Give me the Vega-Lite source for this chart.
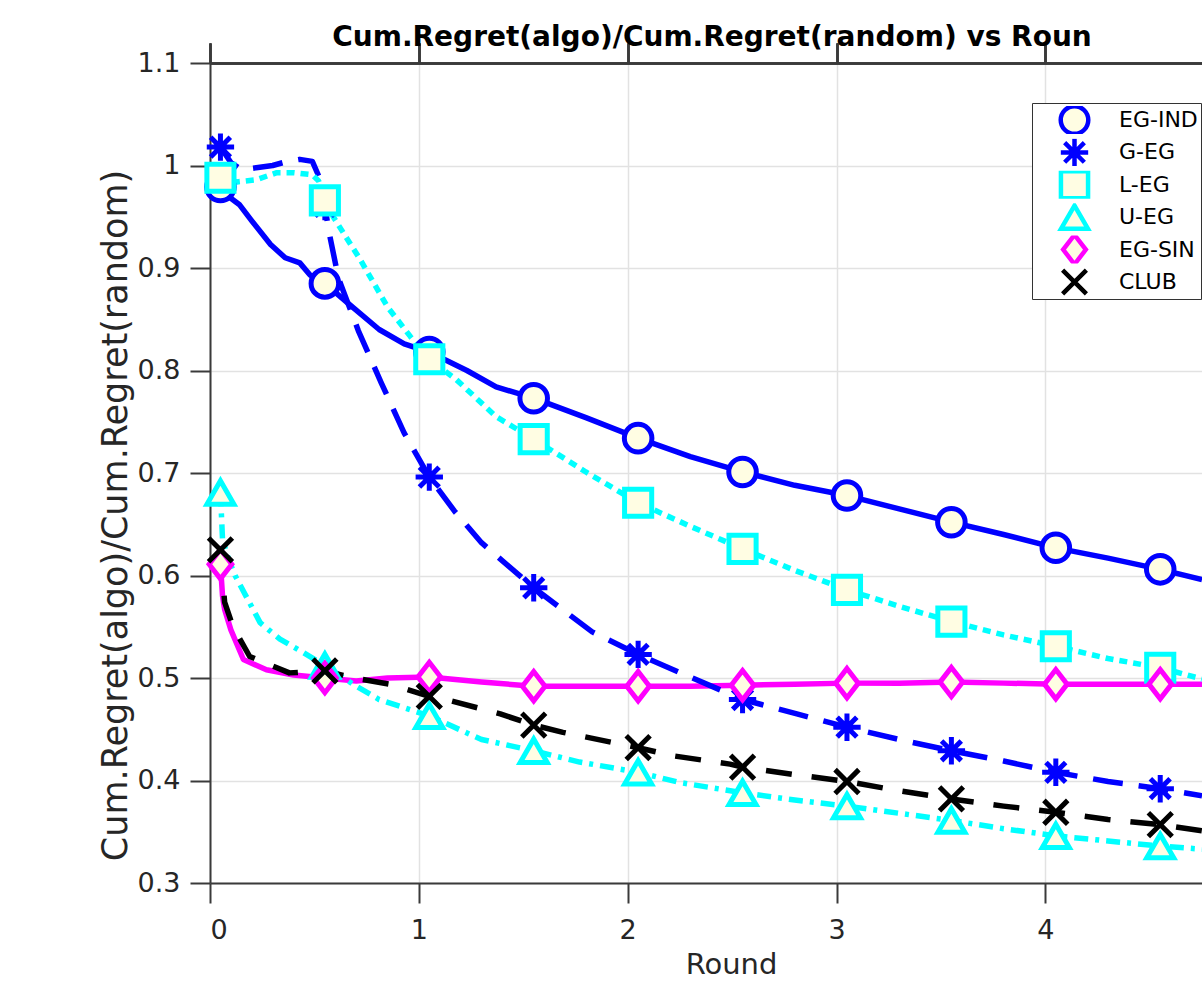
{
  "$schema": "https://vega.github.io/schema/vega-lite/v6.json",
  "width": 992,
  "height": 820,
  "autosize": {"type": "none"},
  "padding": {"left": 210, "top": 63, "right": 0, "bottom": 110},
  "background": "white",
  "title": {
    "text": "Cum.Regret(algo)/Cum.Regret(random) vs Roun",
    "font": "DejaVu Sans",
    "fontWeight": "bold",
    "fontSize": 28,
    "color": "#000000",
    "anchor": "middle",
    "frame": "group",
    "offset": 13,
    "baseline": "alphabetic",
    "dx": 6,
    "dy": 45
  },
  "config": {
    "view": {"stroke": null},
    "axis": {
      "domainColor": "#3a3a3a",
      "domainWidth": 2,
      "tickColor": "#3a3a3a",
      "tickWidth": 2,
      "tickSize": 20,
      "gridColor": "#e2e2e2",
      "gridWidth": 1.5,
      "labelFont": "DejaVu Sans",
      "labelFontSize": 27,
      "labelColor": "#262626",
      "titleFont": "DejaVu Sans",
      "titleFontWeight": "normal",
      "titleColor": "#262626"
    }
  },
  "data": {
    "values": [
      {"s": "EG-IND", "x": 0.04, "y": 0.981, "m": 0},
      {"s": "EG-IND", "x": 0.05, "y": 0.979, "m": 1},
      {"s": "EG-IND", "x": 0.10, "y": 0.968, "m": 0},
      {"s": "EG-IND", "x": 0.14, "y": 0.962, "m": 0},
      {"s": "EG-IND", "x": 0.20, "y": 0.946, "m": 0},
      {"s": "EG-IND", "x": 0.29, "y": 0.923, "m": 0},
      {"s": "EG-IND", "x": 0.36, "y": 0.910, "m": 0},
      {"s": "EG-IND", "x": 0.43, "y": 0.905, "m": 0},
      {"s": "EG-IND", "x": 0.48, "y": 0.893, "m": 0},
      {"s": "EG-IND", "x": 0.55, "y": 0.885, "m": 1},
      {"s": "EG-IND", "x": 0.67, "y": 0.864, "m": 0},
      {"s": "EG-IND", "x": 0.81, "y": 0.840, "m": 0},
      {"s": "EG-IND", "x": 0.93, "y": 0.826, "m": 0},
      {"s": "EG-IND", "x": 1.05, "y": 0.818, "m": 1},
      {"s": "EG-IND", "x": 1.23, "y": 0.800, "m": 0},
      {"s": "EG-IND", "x": 1.37, "y": 0.784, "m": 0},
      {"s": "EG-IND", "x": 1.55, "y": 0.773, "m": 1},
      {"s": "EG-IND", "x": 1.80, "y": 0.754, "m": 0},
      {"s": "EG-IND", "x": 2.05, "y": 0.734, "m": 1},
      {"s": "EG-IND", "x": 2.30, "y": 0.716, "m": 0},
      {"s": "EG-IND", "x": 2.55, "y": 0.701, "m": 1},
      {"s": "EG-IND", "x": 2.80, "y": 0.688, "m": 0},
      {"s": "EG-IND", "x": 3.05, "y": 0.678, "m": 1},
      {"s": "EG-IND", "x": 3.30, "y": 0.665, "m": 0},
      {"s": "EG-IND", "x": 3.55, "y": 0.652, "m": 1},
      {"s": "EG-IND", "x": 3.80, "y": 0.640, "m": 0},
      {"s": "EG-IND", "x": 4.05, "y": 0.627, "m": 1},
      {"s": "EG-IND", "x": 4.30, "y": 0.617, "m": 0},
      {"s": "EG-IND", "x": 4.55, "y": 0.606, "m": 1},
      {"s": "EG-IND", "x": 4.75, "y": 0.596, "m": 0},

      {"s": "G-EG", "x": 0.04, "y": 1.020, "m": 0},
      {"s": "G-EG", "x": 0.05, "y": 1.018, "m": 1},
      {"s": "G-EG", "x": 0.10, "y": 1.003, "m": 0},
      {"s": "G-EG", "x": 0.15, "y": 0.996, "m": 0},
      {"s": "G-EG", "x": 0.23, "y": 0.998, "m": 0},
      {"s": "G-EG", "x": 0.30, "y": 1.000, "m": 0},
      {"s": "G-EG", "x": 0.37, "y": 1.004, "m": 0},
      {"s": "G-EG", "x": 0.43, "y": 1.006, "m": 0},
      {"s": "G-EG", "x": 0.49, "y": 1.004, "m": 0},
      {"s": "G-EG", "x": 0.52, "y": 0.990, "m": 0},
      {"s": "G-EG", "x": 0.55, "y": 0.960, "m": 1},
      {"s": "G-EG", "x": 0.57, "y": 0.935, "m": 0},
      {"s": "G-EG", "x": 0.615, "y": 0.890, "m": 0},
      {"s": "G-EG", "x": 0.71, "y": 0.839, "m": 0},
      {"s": "G-EG", "x": 0.82, "y": 0.788, "m": 0},
      {"s": "G-EG", "x": 0.93, "y": 0.739, "m": 0},
      {"s": "G-EG", "x": 1.05, "y": 0.696, "m": 1},
      {"s": "G-EG", "x": 1.17, "y": 0.663, "m": 0},
      {"s": "G-EG", "x": 1.30, "y": 0.632, "m": 0},
      {"s": "G-EG", "x": 1.55, "y": 0.588, "m": 1},
      {"s": "G-EG", "x": 1.83, "y": 0.545, "m": 0},
      {"s": "G-EG", "x": 2.05, "y": 0.523, "m": 1},
      {"s": "G-EG", "x": 2.31, "y": 0.500, "m": 0},
      {"s": "G-EG", "x": 2.55, "y": 0.479, "m": 1},
      {"s": "G-EG", "x": 2.81, "y": 0.465, "m": 0},
      {"s": "G-EG", "x": 3.05, "y": 0.452, "m": 1},
      {"s": "G-EG", "x": 3.30, "y": 0.440, "m": 0},
      {"s": "G-EG", "x": 3.55, "y": 0.429, "m": 1},
      {"s": "G-EG", "x": 3.80, "y": 0.419, "m": 0},
      {"s": "G-EG", "x": 4.05, "y": 0.408, "m": 1},
      {"s": "G-EG", "x": 4.30, "y": 0.399, "m": 0},
      {"s": "G-EG", "x": 4.55, "y": 0.392, "m": 1},
      {"s": "G-EG", "x": 4.75, "y": 0.385, "m": 0},

      {"s": "L-EG", "x": 0.04, "y": 0.988, "m": 0},
      {"s": "L-EG", "x": 0.05, "y": 0.988, "m": 1},
      {"s": "L-EG", "x": 0.13, "y": 0.984, "m": 0},
      {"s": "L-EG", "x": 0.22, "y": 0.986, "m": 0},
      {"s": "L-EG", "x": 0.32, "y": 0.993, "m": 0},
      {"s": "L-EG", "x": 0.40, "y": 0.993, "m": 0},
      {"s": "L-EG", "x": 0.49, "y": 0.991, "m": 0},
      {"s": "L-EG", "x": 0.52, "y": 0.985, "m": 0},
      {"s": "L-EG", "x": 0.55, "y": 0.966, "m": 1},
      {"s": "L-EG", "x": 0.59, "y": 0.950, "m": 0},
      {"s": "L-EG", "x": 0.72, "y": 0.908, "m": 0},
      {"s": "L-EG", "x": 0.85, "y": 0.862, "m": 0},
      {"s": "L-EG", "x": 0.96, "y": 0.833, "m": 0},
      {"s": "L-EG", "x": 1.05, "y": 0.811, "m": 1},
      {"s": "L-EG", "x": 1.18, "y": 0.791, "m": 0},
      {"s": "L-EG", "x": 1.37, "y": 0.755, "m": 0},
      {"s": "L-EG", "x": 1.55, "y": 0.733, "m": 1},
      {"s": "L-EG", "x": 1.80, "y": 0.701, "m": 0},
      {"s": "L-EG", "x": 2.05, "y": 0.671, "m": 1},
      {"s": "L-EG", "x": 2.30, "y": 0.648, "m": 0},
      {"s": "L-EG", "x": 2.55, "y": 0.626, "m": 1},
      {"s": "L-EG", "x": 2.80, "y": 0.605, "m": 0},
      {"s": "L-EG", "x": 3.05, "y": 0.586, "m": 1},
      {"s": "L-EG", "x": 3.30, "y": 0.570, "m": 0},
      {"s": "L-EG", "x": 3.55, "y": 0.555, "m": 1},
      {"s": "L-EG", "x": 3.80, "y": 0.542, "m": 0},
      {"s": "L-EG", "x": 4.05, "y": 0.531, "m": 1},
      {"s": "L-EG", "x": 4.30, "y": 0.519, "m": 0},
      {"s": "L-EG", "x": 4.55, "y": 0.510, "m": 1},
      {"s": "L-EG", "x": 4.75, "y": 0.499, "m": 0},

      {"s": "U-EG", "x": 0.05, "y": 0.681, "m": 1},
      {"s": "U-EG", "x": 0.06, "y": 0.635, "m": 0},
      {"s": "U-EG", "x": 0.09, "y": 0.615, "m": 0},
      {"s": "U-EG", "x": 0.12, "y": 0.600, "m": 0},
      {"s": "U-EG", "x": 0.18, "y": 0.577, "m": 0},
      {"s": "U-EG", "x": 0.24, "y": 0.554, "m": 0},
      {"s": "U-EG", "x": 0.335, "y": 0.538, "m": 0},
      {"s": "U-EG", "x": 0.445, "y": 0.525, "m": 0},
      {"s": "U-EG", "x": 0.55, "y": 0.512, "m": 1},
      {"s": "U-EG", "x": 0.70, "y": 0.492, "m": 0},
      {"s": "U-EG", "x": 0.81, "y": 0.479, "m": 0},
      {"s": "U-EG", "x": 1.05, "y": 0.463, "m": 1},
      {"s": "U-EG", "x": 1.30, "y": 0.440, "m": 0},
      {"s": "U-EG", "x": 1.55, "y": 0.429, "m": 1},
      {"s": "U-EG", "x": 1.77, "y": 0.418, "m": 0},
      {"s": "U-EG", "x": 2.05, "y": 0.408, "m": 1},
      {"s": "U-EG", "x": 2.25, "y": 0.398, "m": 0},
      {"s": "U-EG", "x": 2.55, "y": 0.388, "m": 1},
      {"s": "U-EG", "x": 2.80, "y": 0.381, "m": 0},
      {"s": "U-EG", "x": 3.05, "y": 0.375, "m": 1},
      {"s": "U-EG", "x": 3.30, "y": 0.368, "m": 0},
      {"s": "U-EG", "x": 3.55, "y": 0.361, "m": 1},
      {"s": "U-EG", "x": 3.80, "y": 0.353, "m": 0},
      {"s": "U-EG", "x": 4.05, "y": 0.346, "m": 1},
      {"s": "U-EG", "x": 4.30, "y": 0.341, "m": 0},
      {"s": "U-EG", "x": 4.55, "y": 0.336, "m": 1},
      {"s": "U-EG", "x": 4.75, "y": 0.333, "m": 0},

      {"s": "EG-SIN", "x": 0.05, "y": 0.611, "m": 1},
      {"s": "EG-SIN", "x": 0.06, "y": 0.580, "m": 0},
      {"s": "EG-SIN", "x": 0.07, "y": 0.567, "m": 0},
      {"s": "EG-SIN", "x": 0.10, "y": 0.547, "m": 0},
      {"s": "EG-SIN", "x": 0.16, "y": 0.518, "m": 0},
      {"s": "EG-SIN", "x": 0.27, "y": 0.508, "m": 0},
      {"s": "EG-SIN", "x": 0.40, "y": 0.503, "m": 0},
      {"s": "EG-SIN", "x": 0.55, "y": 0.500, "m": 1},
      {"s": "EG-SIN", "x": 0.70, "y": 0.497, "m": 0},
      {"s": "EG-SIN", "x": 0.85, "y": 0.500, "m": 0},
      {"s": "EG-SIN", "x": 1.05, "y": 0.501, "m": 1},
      {"s": "EG-SIN", "x": 1.30, "y": 0.496, "m": 0},
      {"s": "EG-SIN", "x": 1.55, "y": 0.492, "m": 1},
      {"s": "EG-SIN", "x": 1.80, "y": 0.492, "m": 0},
      {"s": "EG-SIN", "x": 2.05, "y": 0.492, "m": 1},
      {"s": "EG-SIN", "x": 2.30, "y": 0.492, "m": 0},
      {"s": "EG-SIN", "x": 2.55, "y": 0.493, "m": 1},
      {"s": "EG-SIN", "x": 2.80, "y": 0.494, "m": 0},
      {"s": "EG-SIN", "x": 3.05, "y": 0.495, "m": 1},
      {"s": "EG-SIN", "x": 3.30, "y": 0.495, "m": 0},
      {"s": "EG-SIN", "x": 3.55, "y": 0.496, "m": 1},
      {"s": "EG-SIN", "x": 3.80, "y": 0.495, "m": 0},
      {"s": "EG-SIN", "x": 4.05, "y": 0.494, "m": 1},
      {"s": "EG-SIN", "x": 4.30, "y": 0.494, "m": 0},
      {"s": "EG-SIN", "x": 4.55, "y": 0.494, "m": 1},
      {"s": "EG-SIN", "x": 4.75, "y": 0.494, "m": 0},

      {"s": "CLUB", "x": 0.05, "y": 0.625, "m": 1},
      {"s": "CLUB", "x": 0.07, "y": 0.574, "m": 0},
      {"s": "CLUB", "x": 0.11, "y": 0.550, "m": 0},
      {"s": "CLUB", "x": 0.19, "y": 0.521, "m": 0},
      {"s": "CLUB", "x": 0.38, "y": 0.505, "m": 0},
      {"s": "CLUB", "x": 0.55, "y": 0.507, "m": 1},
      {"s": "CLUB", "x": 0.69, "y": 0.500, "m": 0},
      {"s": "CLUB", "x": 0.86, "y": 0.494, "m": 0},
      {"s": "CLUB", "x": 1.05, "y": 0.482, "m": 1},
      {"s": "CLUB", "x": 1.13, "y": 0.479, "m": 0},
      {"s": "CLUB", "x": 1.39, "y": 0.465, "m": 0},
      {"s": "CLUB", "x": 1.55, "y": 0.454, "m": 1},
      {"s": "CLUB", "x": 1.69, "y": 0.447, "m": 0},
      {"s": "CLUB", "x": 1.93, "y": 0.437, "m": 0},
      {"s": "CLUB", "x": 2.05, "y": 0.432, "m": 1},
      {"s": "CLUB", "x": 2.22, "y": 0.424, "m": 0},
      {"s": "CLUB", "x": 2.49, "y": 0.416, "m": 0},
      {"s": "CLUB", "x": 2.55, "y": 0.413, "m": 1},
      {"s": "CLUB", "x": 2.79, "y": 0.406, "m": 0},
      {"s": "CLUB", "x": 3.05, "y": 0.399, "m": 1},
      {"s": "CLUB", "x": 3.30, "y": 0.390, "m": 0},
      {"s": "CLUB", "x": 3.55, "y": 0.382, "m": 1},
      {"s": "CLUB", "x": 3.80, "y": 0.375, "m": 0},
      {"s": "CLUB", "x": 4.05, "y": 0.369, "m": 1},
      {"s": "CLUB", "x": 4.30, "y": 0.362, "m": 0},
      {"s": "CLUB", "x": 4.55, "y": 0.357, "m": 1},
      {"s": "CLUB", "x": 4.75, "y": 0.351, "m": 0}
    ]
  },
  "layer": [
    {
      "transform": [{"filter": {"field": "s", "oneOf": ["EG-IND", "EG-SIN"]}}],
      "mark": {"type": "line", "strokeWidth": 5.5, "strokeJoin": "round", "strokeCap": "butt", "clip": true},
      "encoding": {
        "x": {
          "field": "x", "type": "quantitative",
          "scale": {"domain": [0, 4.75], "nice": false, "zero": false},
          "axis": {
            "orient": "bottom",
            "values": [0, 1, 2, 3, 4],
            "format": "d",
            "labelPadding": 14,
            "title": "Round",
            "titleFontSize": 29,
            "titleX": 521,
            "titleY": 90,
            "titleBaseline": "alphabetic",
            "titleAnchor": null,
            "grid": true
          }
        },
        "y": {
          "field": "y", "type": "quantitative",
          "scale": {"domain": [0.3, 1.1], "nice": false, "zero": false},
          "axis": {
            "values": [0.3, 0.4, 0.5, 0.6, 0.7, 0.8, 0.9, 1.0, 1.1],
            "format": "~g",
            "labelPadding": 10,
            "title": "Cum.Regret(algo)/Cum.Regret(random)",
            "titleFontSize": 35,
            "titleAnchor": null,
            "titleX": -95,
            "titleY": 452,
            "titleBaseline": "middle",
            "grid": true
          }
        },
        "stroke": {
          "field": "s", "type": "nominal",
          "scale": {
            "domain": ["EG-IND", "G-EG", "L-EG", "U-EG", "EG-SIN", "CLUB"],
            "range": ["#0000FF", "#0000FF", "#00FFFF", "#00FFFF", "#FF00FF", "#000000"]
          }
        }
      }
    },
    {
      "transform": [{"filter": {"field": "s", "equal": "G-EG"}}],
      "mark": {"type": "line", "strokeWidth": 5.5, "strokeJoin": "round", "strokeCap": "butt", "clip": true, "strokeDash": [30, 16]},
      "encoding": {
        "x": {"field": "x", "type": "quantitative", "axis": {"orient": "top", "values": [0, 1, 2, 3, 4], "labels": false, "title": null, "grid": false, "tickSize": 20}},
        "y": {"field": "y", "type": "quantitative", "axis": {"values": [0.3, 0.4, 0.5, 0.6, 0.7, 0.8, 0.9, 1.0, 1.1], "format": "~g", "labelPadding": 10, "title": "Cum.Regret(algo)/Cum.Regret(random)", "titleFontSize": 35, "titleAnchor": null, "titleX": -95, "titleY": 452, "titleBaseline": "middle", "grid": true}},
        "stroke": {"field": "s", "type": "nominal"}
      }
    },
    {
      "transform": [{"filter": {"field": "s", "equal": "L-EG"}}],
      "mark": {"type": "line", "strokeWidth": 5.5, "strokeJoin": "round", "strokeCap": "butt", "clip": true, "strokeDash": [8, 6]},
      "encoding": {
        "x": {"field": "x", "type": "quantitative", "axis": {"orient": "top", "values": [0, 1, 2, 3, 4], "labels": false, "title": null, "grid": false, "tickSize": 20}},
        "y": {"field": "y", "type": "quantitative", "axis": {"values": [0.3, 0.4, 0.5, 0.6, 0.7, 0.8, 0.9, 1.0, 1.1], "format": "~g", "labelPadding": 10, "title": "Cum.Regret(algo)/Cum.Regret(random)", "titleFontSize": 35, "titleAnchor": null, "titleX": -95, "titleY": 452, "titleBaseline": "middle", "grid": true}},
        "stroke": {"field": "s", "type": "nominal"}
      }
    },
    {
      "transform": [{"filter": {"field": "s", "equal": "U-EG"}}],
      "mark": {"type": "line", "strokeWidth": 5.5, "strokeJoin": "round", "strokeCap": "butt", "clip": true, "strokeDash": [14, 7, 4, 7]},
      "encoding": {
        "x": {"field": "x", "type": "quantitative", "axis": {"orient": "top", "values": [0, 1, 2, 3, 4], "labels": false, "title": null, "grid": false, "tickSize": 20}},
        "y": {"field": "y", "type": "quantitative", "axis": {"values": [0.3, 0.4, 0.5, 0.6, 0.7, 0.8, 0.9, 1.0, 1.1], "format": "~g", "labelPadding": 10, "title": "Cum.Regret(algo)/Cum.Regret(random)", "titleFontSize": 35, "titleAnchor": null, "titleX": -95, "titleY": 452, "titleBaseline": "middle", "grid": true}},
        "stroke": {"field": "s", "type": "nominal"}
      }
    },
    {
      "transform": [{"filter": {"field": "s", "equal": "CLUB"}}],
      "mark": {"type": "line", "strokeWidth": 5.5, "strokeJoin": "round", "strokeCap": "butt", "clip": true, "strokeDash": [26, 20]},
      "encoding": {
        "x": {"field": "x", "type": "quantitative", "axis": {"orient": "top", "values": [0, 1, 2, 3, 4], "labels": false, "title": null, "grid": false, "tickSize": 20}},
        "y": {"field": "y", "type": "quantitative", "axis": {"values": [0.3, 0.4, 0.5, 0.6, 0.7, 0.8, 0.9, 1.0, 1.1], "format": "~g", "labelPadding": 10, "title": "Cum.Regret(algo)/Cum.Regret(random)", "titleFontSize": 35, "titleAnchor": null, "titleX": -95, "titleY": 452, "titleBaseline": "middle", "grid": true}},
        "stroke": {"field": "s", "type": "nominal"}
      }
    },
    {
      "transform": [{"filter": {"field": "m", "equal": 1}}],
      "mark": {"type": "point", "filled": true, "fill": "#FFFDE3", "strokeWidth": 5, "opacity": 1, "fillOpacity": 1, "strokeOpacity": 1},
      "encoding": {
        "x": {
          "field": "x", "type": "quantitative",
          "scale": {"domain": [0, 4.75], "nice": false, "zero": false},
          "axis": {"orient": "top", "values": [0, 1, 2, 3, 4], "labels": false, "title": null, "grid": false, "tickSize": 20}
        },
        "y": {
          "field": "y", "type": "quantitative",
          "scale": {"domain": [0.3, 1.1], "nice": false, "zero": false},
          "axis": {"values": [0.3, 0.4, 0.5, 0.6, 0.7, 0.8, 0.9, 1.0, 1.1], "format": "~g", "labelPadding": 10, "title": "Cum.Regret(algo)/Cum.Regret(random)", "titleFontSize": 35, "titleAnchor": null, "titleX": -95, "titleY": 452, "titleBaseline": "middle", "grid": true}
        },
        "stroke": {
          "field": "s", "type": "nominal",
          "scale": {
            "domain": ["EG-IND", "G-EG", "L-EG", "U-EG", "EG-SIN", "CLUB"],
            "range": ["#0000FF", "#0000FF", "#00FFFF", "#00FFFF", "#FF00FF", "#000000"]
          },
          "legend": {
            "title": null, "orient": "none", "legendX": 822, "legendY": 40,
            "padding": 3, "strokeColor": "#333333", "fillColor": "#ffffff",
            "labelFont": "DejaVu Sans", "labelFontSize": 22, "labelColor": "#000000",
            "symbolSize": 560, "symbolStrokeWidth": 4.5, "symbolFillColor": "#FFFDE3",
            "rowPadding": 4.4, "clipHeight": 28,
            "symbolOffset": 23, "labelOffset": 28
          }
        },
        "shape": {
          "field": "s", "type": "nominal",
          "scale": {
            "domain": ["EG-IND", "G-EG", "L-EG", "U-EG", "EG-SIN", "CLUB"],
            "range": [
              "circle",
              "M0,-1L0,1M-1,0L1,0M-0.72,-0.72L0.72,0.72M-0.72,0.72L0.72,-0.72",
              "square",
              "triangle-up",
              "M0,-1.1L0.85,0L0,1.1L-0.85,0Z",
              "M-0.9,-0.9L0.9,0.9M-0.9,0.9L0.9,-0.9"
            ]
          },
          "legend": {
            "title": null, "orient": "none", "legendX": 822, "legendY": 40,
            "padding": 3, "strokeColor": "#333333", "fillColor": "#ffffff",
            "labelFont": "DejaVu Sans", "labelFontSize": 22, "labelColor": "#000000",
            "symbolSize": 560, "symbolStrokeWidth": 4.5, "symbolFillColor": "#FFFDE3",
            "rowPadding": 4.4, "clipHeight": 28,
            "symbolOffset": 23, "labelOffset": 28
          }
        },
        "size": {
          "field": "s", "type": "nominal",
          "scale": {
            "domain": ["EG-IND", "G-EG", "L-EG", "U-EG", "EG-SIN", "CLUB"],
            "range": [760, 700, 640, 900, 1050, 560]
          },
          "legend": null
        }
      }
    }
  ]
}
